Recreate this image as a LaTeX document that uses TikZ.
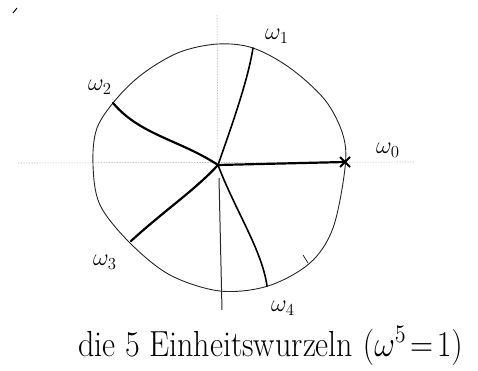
\documentclass[tikz,border=0pt]{standalone}
\usepackage{amsmath}
\begin{document}
\begin{tikzpicture}[x=1pt,y=-1pt,
  axis/.style={gray!70,line width=0.6pt,densely dotted},
  rim/.style={black!85,line width=0.9pt},
  radius line/.style={black,line width=2.2pt,line cap=round},
  lbl/.style={font=\LARGE,scale=1.4},
]
\useasboundingbox (0,0) rectangle (478,371);
% axes
\coordinate (hl) at (18,163);
\coordinate (hr) at (415,162);
\coordinate (vt) at (217,15);
\coordinate (vb) at (222,310);
\coordinate (O) at (218,165);
\draw[axis] (hl) -- (hr);
\draw[axis] (vt) -- (O);
\draw[black!85,line width=1pt] (219,178) -- (vb);
% unit circle (hand drawn)
\draw[rim] plot[smooth cycle,tension=0.55] coordinates {
 (345,168) (343,135) (325,100) (290,68) (253,48) (218,44) (180,52)
 (145,72) (118,97) (97,128) (93,165) (100,205) (130,243) (170,275)
 (220,291) (268,286) (310,263) (333,228)};
% roots
\coordinate (w0) at (345,162);
\coordinate (w1) at (253,48);
\coordinate (w2) at (113,103);
\coordinate (w3) at (131,241);
\coordinate (w4) at (267,286);
\draw[radius line] (O) -- (w0);
\draw[radius line,line width=1.6pt] (O) .. controls (232,125) and (248,80) .. (w1);
\draw[radius line] (O) .. controls (180,140) and (140,135) .. (w2);
\draw[radius line] (O) .. controls (195,190) and (165,210) .. (w3);
\draw[radius line,line width=1.6pt] (O) .. controls (235,210) and (262,250) .. (w4);
% x mark at w0
\draw[line width=2pt] (340,157) -- (350,167) (340,167) -- (350,157);
% small tick on the circle
\coordinate (tk1) at (303,255);
\coordinate (tk2) at (308,263);
\draw[line width=0.6pt] (tk1) -- (tk2);
% stray mark top left
\coordinate (s1) at (13,13);
\coordinate (s2) at (17,8);
\draw[line width=1pt] (s1) -- (s2);
% labels
\node[lbl] (l0) at (388,150) {$\omega_0$};
\node[lbl] (l1) at (277,36) {$\omega_1$};
\node[lbl] (l2) at (100,87) {$\omega_2$};
\node[lbl] (l3) at (105,262) {$\omega_3$};
\node[lbl] (l4) at (283,308) {$\omega_4$};
\node[anchor=base west,inner sep=0pt] (cap) at (78,356)
  {\scalebox{1.85}[2.1]{\LARGE die 5 Einheitswurzeln $(\omega^5\!=\!1)$}};
\end{tikzpicture}
\end{document}
